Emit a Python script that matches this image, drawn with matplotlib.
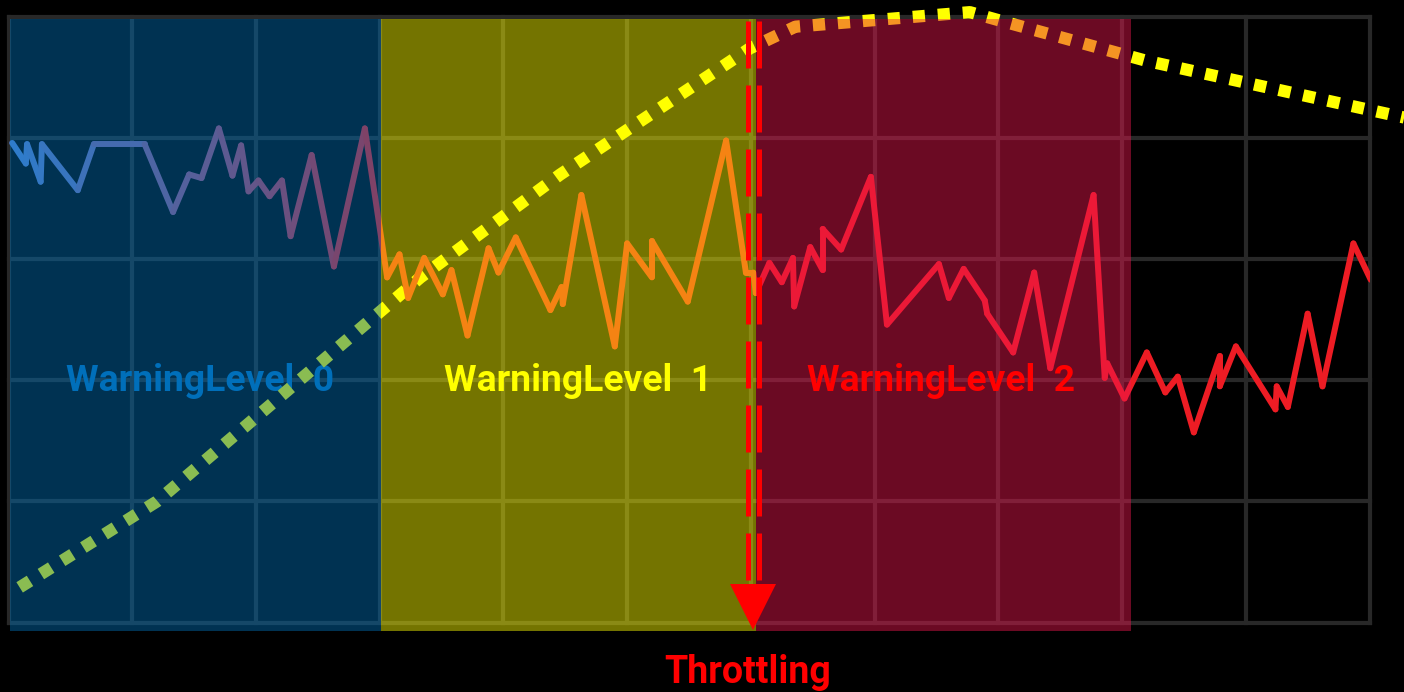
import numpy as np
import matplotlib
matplotlib.use("Agg")
import matplotlib.pyplot as plt
from matplotlib.collections import LineCollection

# ---------------- data ----------------
# jagged signal (x in grid columns, y in grid rows)
sig_x = [0.03, 0.14, 0.15, 0.26, 0.27, 0.56, 0.69, 1.10, 1.33, 1.46, 1.56, 1.70, 1.81, 1.88,
         1.94, 2.02, 2.11, 2.21, 2.28, 2.45, 2.63, 2.88, 3.06, 3.16, 3.23, 3.36, 3.51, 3.58,
         3.71, 3.88, 3.96, 4.10, 4.38, 4.47, 4.48, 4.63, 4.90, 5.00, 5.20, 5.20, 5.49, 5.80,
         5.96, 6.02, 6.04, 6.15, 6.25, 6.34, 6.35, 6.48, 6.58, 6.58, 6.73, 6.97, 7.10, 7.52,
         7.60, 7.72, 7.89, 7.91, 8.12, 8.29, 8.42, 8.77, 8.86, 8.88, 9.02, 9.20, 9.35, 9.45,
         9.58, 9.79, 9.79, 9.92, 10.24, 10.25, 10.34, 10.50, 10.62, 10.87, 11.01]
sig_y = [3.96, 3.79, 3.95, 3.64, 3.95, 3.57, 3.95, 3.95, 3.39, 3.70, 3.67, 4.08, 3.69, 3.94,
         3.56, 3.65, 3.52, 3.65, 3.19, 3.86, 2.94, 4.08, 2.85, 3.04, 2.68, 3.01, 2.71, 2.91,
         2.37, 3.09, 2.89, 3.18, 2.58, 2.77, 2.63, 3.53, 2.28, 3.13, 2.85, 3.15, 2.65, 3.98,
         2.89, 2.89, 2.72, 2.97, 2.81, 3.01, 2.61, 3.10, 2.91, 3.25, 3.08, 3.68, 2.46, 2.96,
         2.68, 2.92, 2.66, 2.55, 2.23, 2.89, 2.10, 3.53, 2.02, 2.14, 1.85, 2.23, 1.90, 2.03,
         1.57, 2.20, 1.95, 2.28, 1.76, 1.95, 1.78, 2.55, 1.95, 3.13, 2.83]

# dotted trend curve
trend_x = [0.09, 1.20, 3.33, 4.46, 5.99, 6.36, 7.77, 7.98, 9.19, 11.28]
trend_y = [0.29, 1.00, 2.85, 3.70, 4.74, 4.92, 5.04, 4.98, 4.64, 4.17]

# warning level zones
zone_start = [0.01, 3.01, 6.04]
zone_end = [3.01, 6.04, 9.07]
zone_labels = ["WarningLevel  0", "WarningLevel  1", "WarningLevel  2"]
zone_label_x = [1.55, 4.60, 7.54]
zone_colors = ["#006EB4", "#FFFF00", "#EB164E"]
label_colors = ["#0070C0", "#FFFF00", "#FF0000"]
label_z = [1, 1, 4]   # red one sits on top of its shading

throttle_x = 6.02
throttle_label = "Throttling"

# ---------------- plot ----------------
fig = plt.figure(figsize=(14.04, 6.92), dpi=100, facecolor="black")
ax = fig.add_axes([8.5 / 1404, 69.5 / 692, 1361 / 1404, 605.5 / 692])
ax.set_facecolor("black")
ax.set_xlim(0, 11)
ax.set_ylim(0, 5)
ax.set_xticks(np.arange(0, 12))
ax.set_yticks(np.arange(0, 6))
ax.tick_params(length=0, labelbottom=False, labelleft=False)
for s in ax.spines.values():
    s.set_visible(False)
ax.set_axisbelow(True)
ax.grid(True, color="#282828", linewidth=3)
for gl in ax.get_xgridlines() + ax.get_ygridlines():
    gl.set_clip_on(False)

# zone labels
for lab, lx, c, z in zip(zone_labels, zone_label_x, label_colors, label_z):
    ax.text(lx, 1.91, lab, color=c, fontsize=26.8, fontweight="bold", family="Roboto",
            ha="center", va="baseline", zorder=z)

# dotted trend
ax.plot(trend_x, trend_y, color="#FFFF00", linewidth=8.8, linestyle=(0, (1, 1.05)),
        dash_capstyle="butt", clip_on=False, zorder=2)

# jagged signal with blue -> red fade over the first zone
pts = np.column_stack([sig_x, sig_y])
segs = np.stack([pts[:-1], pts[1:]], axis=1)
blue = np.array([83, 139, 228]) / 255
red = np.array([237, 28, 36]) / 255
t = np.clip((segs[:, :, 0].mean(axis=1)) / 3.0, 0, 1)[:, None]
cols = (1 - t) * blue + t * red
lc = LineCollection(segs, colors=cols, linewidths=4.3, capstyle="round", zorder=2)
ax.add_collection(lc)

# shaded zones
for x0, x1, c in zip(zone_start, zone_end, zone_colors):
    sp = ax.axvspan(x0, x1, ymin=-0.014, ymax=0.9967, color=c, alpha=0.46, lw=0, zorder=3)
    sp.set_clip_on(False)

# throttling marker
for dx in (-0.045, 0.045):
    ax.plot([throttle_x + dx, throttle_x + dx], [0.35, 5.03], color="#FF0000", linewidth=3.6,
            dashes=(9.4, 3.4), clip_on=False, zorder=5)
ax.plot([throttle_x], [0.124], marker="v", markersize=33.8, color="#FF0000",
        markeredgewidth=0, clip_on=False, zorder=5)
ax.text(5.97, -0.50, throttle_label, color="#FF0000", fontsize=27, fontweight="bold",
        family="Roboto", ha="center", va="baseline", zorder=5)

fig.savefig("out.png", dpi=100, facecolor="black")
